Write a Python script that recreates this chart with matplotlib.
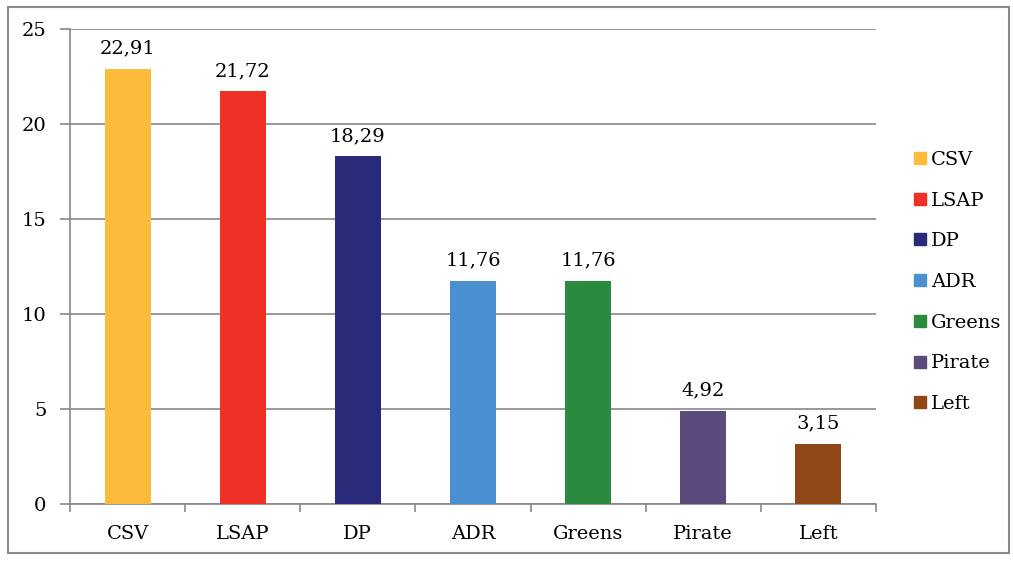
import matplotlib.pyplot as plt
from matplotlib.patches import Rectangle
from matplotlib.lines import Line2D

# Data
parties = ['CSV', 'LSAP', 'DP', 'ADR', 'Greens', 'Pirate', 'Left']
values = [22.91, 21.72, 18.29, 11.76, 11.76, 4.92, 3.15]
labels = ['22,91', '21,72', '18,29', '11,76', '11,76', '4,92', '3,15']
colors = ['#FDBB3B', '#EE3124', '#2A2A7A', '#4A8FD0', '#2A8A3E', '#5B4A7C', '#8F4716']

plt.rcParams['font.family'] = ['DejaVu Serif']
fig = plt.figure(figsize=(10.13, 5.61), dpi=100)
ax = fig.add_axes([70 / 1013, 57 / 561, 806 / 1013, 475 / 561])

x = range(len(parties))
ax.bar(x, values, width=0.4, color=colors, zorder=3)
for i, (v, lab) in enumerate(zip(values, labels)):
    ax.text(i, v + 0.6, lab, ha='center', va='bottom', fontsize=14)

ax.set_xlim(-0.5, len(parties) - 0.5)
ax.set_ylim(0, 25)
ax.set_yticks([0, 5, 10, 15, 20, 25])
ax.yaxis.grid(True, color='#888888', linewidth=1.2, zorder=0)
ax.set_xticks(x)
ax.set_xticklabels(parties, fontsize=14)
ax.set_xticks([i - 0.5 for i in range(len(parties) + 1)], minor=True)
ax.tick_params(axis='x', which='major', length=0, pad=15)
ax.tick_params(axis='x', which='minor', length=6, color='#888888', width=1.2)
ax.tick_params(axis='y', length=7, color='#888888', width=1.2, labelsize=14, pad=10)
for s in ['top', 'right']:
    ax.spines[s].set_visible(False)
for s in ['left', 'bottom']:
    ax.spines[s].set_color('#888888')
    ax.spines[s].set_linewidth(1.2)

handles = [Line2D([], [], marker='s', linestyle='none', markersize=9,
                  markerfacecolor=c, markeredgecolor=c) for c in colors]
fig.legend(handles, parties, loc='center left', bbox_to_anchor=(893 / 1013, 1 - 282 / 561),
           frameon=False, fontsize=14, labelspacing=1.17, handletextpad=0.05,
           handlelength=1.0)

fig.patches.append(Rectangle((8 / 1013, 8 / 561), 1001 / 1013, 546 / 561,
                             transform=fig.transFigure, fill=False,
                             edgecolor='#8a8a8a', linewidth=1.5))

fig.savefig('out.png', dpi=100)
